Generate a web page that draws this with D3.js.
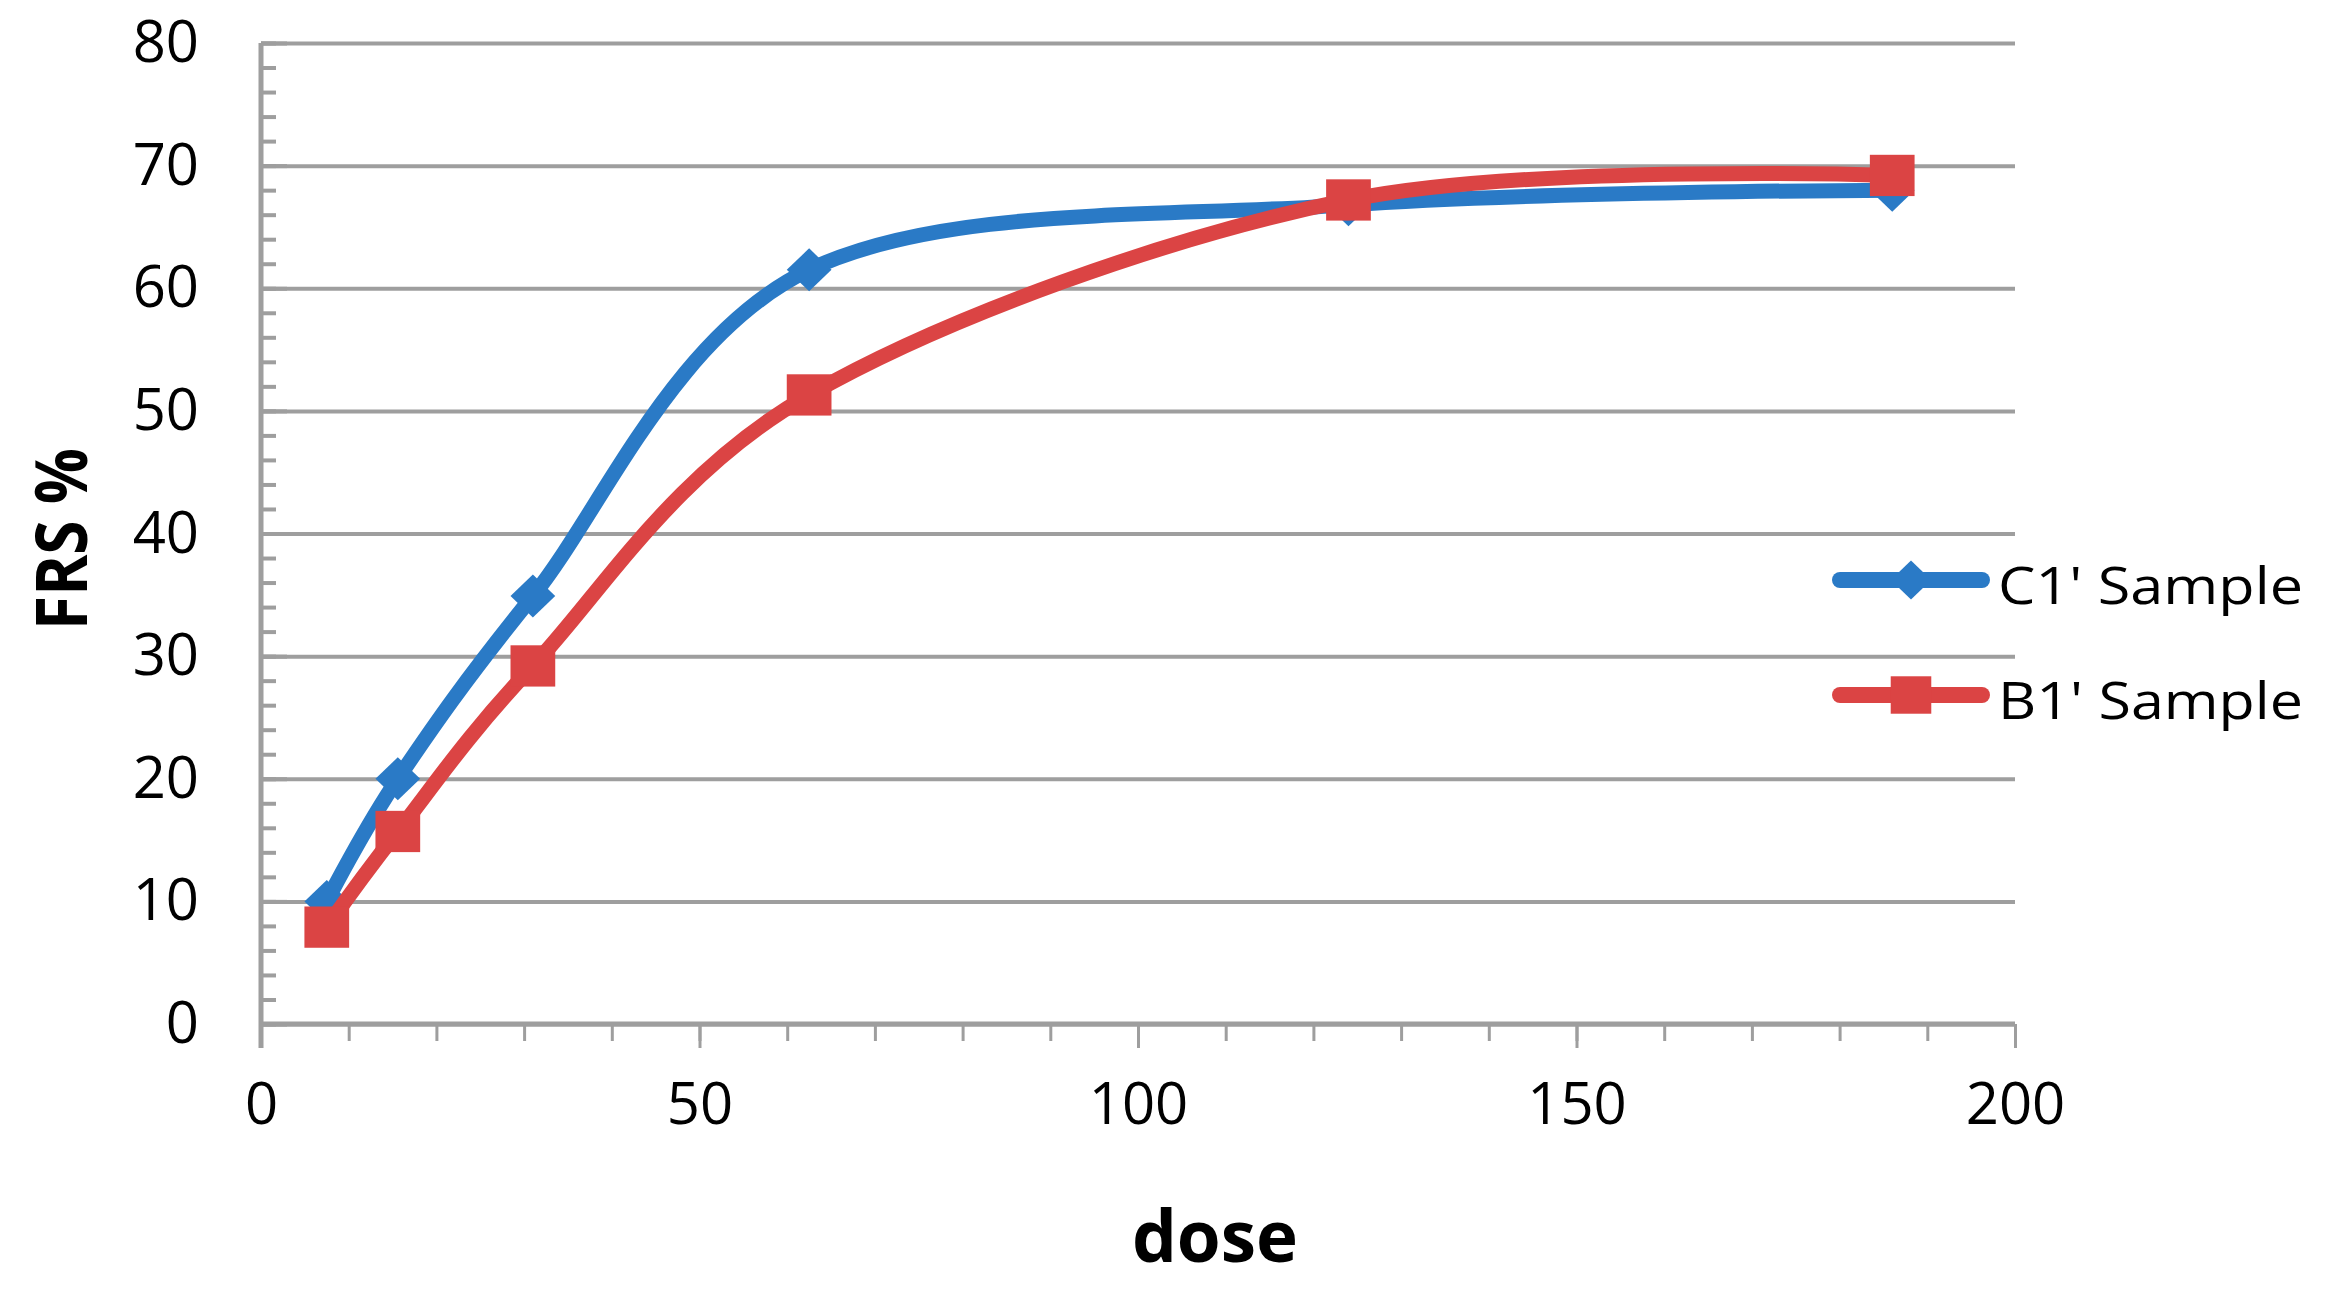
<!DOCTYPE html>
<meta charset="utf-8">
<style>
body{ margin:0; background-color:white; }
.axis text{ font-family:"Open Sans", sans-serif; fill:#000; }
</style>
<body>
<svg class="chart"></svg>
<script src="https://cdn.jsdelivr.net/npm/d3@7/dist/d3.min.js"></script>
<script>
// dose values (x) shared by both samples
var doses = [7.5, 15.6, 31, 62.5, 124, 186];

// FRS % readings
var c1Values = [10, 20, 34.9, 61.5, 66.8, 68.0];
var b1Values = [7.9, 15.7, 29.2, 51.3, 67.2, 69.2];

var seriesNames = ["C1' Sample", "B1' Sample"];

// tick labels
var xTickLabels = [0, 50, 100, 150, 200];
var yTickLabels = [0, 10, 20, 30, 40, 50, 60, 70, 80];
</script>

<script>
var W = 2328, H = 1301;
// plot edges (window.top is taken, so prefixed names)
var plotL = 261, plotR = 2015, plotT = 43, plotB = 1024;

var blue = '#2a7ac6';
var red = '#db4444';
var grey = '#9e9e9e';

var svg = d3.select('svg').attr('width', W).attr('height', H);

var x = d3.scaleLinear().domain([0, 200]).range([plotL, plotR]);
var y = d3.scaleLinear().domain([0, 80]).range([plotB, plotT]);

function greyLines (w) {
  return function (g) {
    g.select('.domain').remove();
    g.selectAll('line').attr('stroke', grey).attr('stroke-width', w);
  };
}

// horizontal gridlines
svg.append('g')
  .attr('transform', 'translate(' + plotL + ',0)')
  .call(d3.axisLeft(y).tickValues(yTickLabels).tickSize(-(plotR - plotL)).tickFormat(''))
  .call(greyLines(4));

// y minor ticks (every 2) pointing into the plot
svg.append('g')
  .attr('transform', 'translate(' + plotL + ',0)')
  .call(d3.axisRight(y).tickValues(d3.range(0, 81, 2)).tickSize(15).tickFormat(''))
  .call(greyLines(4));

// y major ticks
svg.append('g')
  .attr('transform', 'translate(' + plotL + ',0)')
  .call(d3.axisRight(y).tickValues(yTickLabels).tickSize(26).tickFormat(''))
  .call(greyLines(4));

// y labels
svg.append('g')
  .attr('class', 'axis')
  .attr('transform', 'translate(' + plotL + ',0)')
  .call(d3.axisLeft(y).tickValues(yTickLabels).tickSize(0).tickPadding(62))
  .call(function (g) {
    g.select('.domain').remove();
    g.selectAll('text').attr('font-size', 58);
  });

// x minor ticks
svg.append('g')
  .attr('transform', 'translate(0,' + plotB + ')')
  .call(d3.axisBottom(x).tickValues(d3.range(0, 201, 10)).tickSize(17).tickFormat(''))
  .call(greyLines(3));

// x major ticks + labels
svg.append('g')
  .attr('class', 'axis')
  .attr('transform', 'translate(0,' + plotB + ')')
  .call(d3.axisBottom(x).tickValues(xTickLabels).tickSize(24).tickPadding(35))
  .call(greyLines(3))
  .call(function (g) {
    g.selectAll('text').attr('font-size', 58);
  });

// axis lines
svg.append('line')
  .attr('x1', plotL).attr('x2', plotR)
  .attr('y1', plotB).attr('y2', plotB)
  .attr('stroke', grey).attr('stroke-width', 5);
svg.append('line')
  .attr('x1', plotL).attr('x2', plotL)
  .attr('y1', plotT).attr('y2', plotB + 24)
  .attr('stroke', grey).attr('stroke-width', 5);

// series
var series = [
  { name: seriesNames[0], values: c1Values, color: blue, shape: 'diamond' },
  { name: seriesNames[1], values: b1Values, color: red, shape: 'square' }
];

var line = d3.line()
  .x(function (d) { return x(d[0]); })
  .y(function (d) { return y(d[1]); })
  .curve(d3.curveCardinal.tension(0));

function drawMarker (g, shape, cx, cy, color, s) {
  if (shape == 'diamond') {
    g.append('path')
      .attr('d', 'M' + cx + ',' + (cy - s * 0.5) + 'L' + (cx + s * 0.52) + ',' + cy +
                 'L' + cx + ',' + (cy + s * 0.5) + 'L' + (cx - s * 0.52) + ',' + cy + 'Z')
      .attr('fill', color);
  } else {
    g.append('rect')
      .attr('x', cx - s * 0.52).attr('y', cy - s * 0.48)
      .attr('width', s * 1.04).attr('height', s * 0.96)
      .attr('fill', color);
  }
}

series.forEach(function (s) {
  var pts = doses.map(function (d, i) { return [d, s.values[i]]; });
  svg.append('path')
    .attr('d', line(pts))
    .attr('fill', 'none')
    .attr('stroke', s.color)
    .attr('stroke-width', 15)
    .attr('stroke-linecap', 'round');
  var mg = svg.append('g');
  pts.forEach(function (p) {
    drawMarker(mg, s.shape, x(p[0]), y(p[1]), s.color, 43);
  });
});

// legend
var legendY = [580, 695];
series.forEach(function (s, i) {
  svg.append('line')
    .attr('x1', 1840).attr('x2', 1982)
    .attr('y1', legendY[i]).attr('y2', legendY[i])
    .attr('stroke', s.color).attr('stroke-width', 16)
    .attr('stroke-linecap', 'round');
  drawMarker(svg, s.shape, 1911, legendY[i], s.color, 39);
  svg.append('text')
    .attr('x', 1998).attr('y', legendY[i] + 24)
    .attr('font-family', '"Open Sans", sans-serif')
    .attr('font-size', 52)
    .attr('textLength', 305)
    .attr('lengthAdjust', 'spacingAndGlyphs')
    .text(s.name);
});

// axis titles
svg.append('text')
  .attr('x', 1215).attr('y', 1262)
  .attr('text-anchor', 'middle')
  .attr('font-family', '"Open Sans", sans-serif')
  .attr('font-weight', 'bold')
  .attr('font-size', 71)
  .text('dose');

svg.append('text')
  .attr('transform', 'translate(87,539) rotate(-90)')
  .attr('text-anchor', 'middle')
  .attr('font-family', '"Open Sans", sans-serif')
  .attr('font-weight', 'bold')
  .attr('font-size', 72)
  .attr('textLength', 182)
  .attr('lengthAdjust', 'spacingAndGlyphs')
  .text('FRS %');
</script>
</body>
</html>
